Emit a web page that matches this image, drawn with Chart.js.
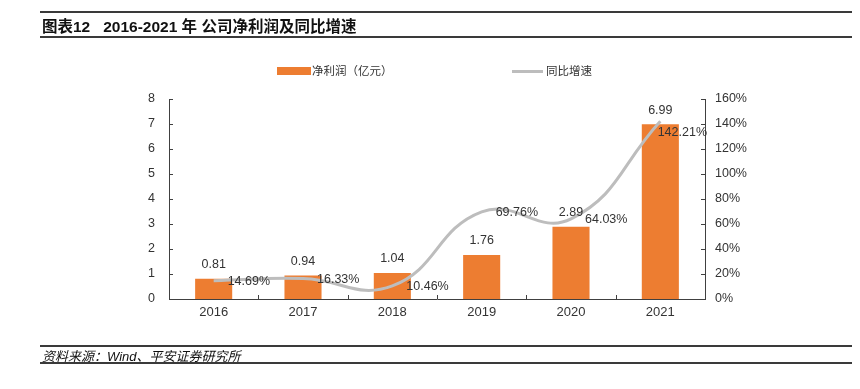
<!DOCTYPE html>
<html>
<head>
<meta charset="utf-8">
<script src="https://cdn.jsdelivr.net/npm/chart.js@4.4.0/dist/chart.umd.min.js"></script>
<style>
  body { margin: 0; background: #fff; width: 860px; height: 389px; position: relative; overflow: hidden;
         font-family: 'Liberation Sans', 'Noto Sans CJK SC', sans-serif; }
  #wrap { position: absolute; left: 0; top: 0; width: 860px; height: 389px; }
  .rule { position: absolute; left: 40px; width: 812px; height: 2px; background: #3a3a3a; }
  #title { position: absolute; left: 42px; top: 14px; font-size: 15.5px; font-weight: bold; color: #111; white-space: pre; }
  #source { position: absolute; left: 42px; top: 346px; font-size: 13px; font-style: italic; color: #111; }
  .leg { position: absolute; top: 63px; font-size: 11.5px; color: #333; line-height: 16px; }
  .swatch { position: absolute; }
</style>
</head>
<body>
<div id="wrap"><canvas id="chart" width="860" height="389"></canvas></div>
<div class="rule" style="top:11px"></div>
<div class="rule" style="top:36px"></div>
<div id="title">图表12   2016-2021 年 公司净利润及同比增速</div>
<div class="rule" style="top:345px"></div>
<div class="rule" style="top:362px"></div>
<div id="source">资料来源：Wind、平安证券研究所</div>

<div class="swatch" style="left:277px;top:67px;width:34px;height:8px;background:#ED7D31"></div>
<div class="leg" style="left:312px">净利润（亿元）</div>
<div class="swatch" style="left:512px;top:70px;width:31px;height:3px;background:#BDBDBD"></div>
<div class="leg" style="left:546px">同比增速</div>

<script>
const years = ['2016', '2017', '2018', '2019', '2020', '2021'];
const profit = [0.81, 0.94, 1.04, 1.76, 2.89, 6.99];       // 亿元
const growth = [14.69, 16.33, 10.46, 69.76, 64.03, 142.21]; // %
const leftMax = 8;
const rightMax = 160;

const axisColor = '#404040';
const textColor = '#333';

// inside tick marks + data labels
const extras = {
    id: 'extras',
    afterDatasetsDraw(chart) {
        const ctx = chart.ctx;
        const area = chart.chartArea;
        const x = chart.scales.x, y = chart.scales.y, y1 = chart.scales.y1;
        ctx.save();
        ctx.strokeStyle = axisColor;
        ctx.lineWidth = 1;
        ctx.beginPath();
        y.ticks.forEach(t => {
            const py = Math.round(y.getPixelForValue(t.value)) + 0.5;
            ctx.moveTo(area.left, py); ctx.lineTo(area.left + 4, py);
        });
        y1.ticks.forEach(t => {
            const py = Math.round(y1.getPixelForValue(t.value)) + 0.5;
            ctx.moveTo(area.right - 4, py); ctx.lineTo(area.right, py);
        });
        for (let i = 1; i < years.length; i++) {
            const px = Math.round((x.getPixelForValue(i - 1) + x.getPixelForValue(i)) / 2) + 0.5;
            ctx.moveTo(px, area.bottom); ctx.lineTo(px, area.bottom - 4);
        }
        ctx.stroke();

        ctx.fillStyle = textColor;
        ctx.font = "12.5px 'Liberation Sans', sans-serif";
        ctx.textBaseline = 'middle';

        const bars = chart.getDatasetMeta(0).data;
        ctx.textAlign = 'center';
        bars.forEach((b, i) => {
            ctx.fillText(profit[i].toFixed(2), b.x, b.y - 14);
        });

        const pts = chart.getDatasetMeta(1).data;
        ctx.textAlign = 'left';
        pts.forEach((p, i) => {
            const txt = growth[i].toFixed(2) + '%';
            const w = ctx.measureText(txt).width;
            let lx = p.x + 14, ly = p.y + 1;
            if (lx + w > area.right + 2) {
                lx = area.right + 2 - w;
                ly += 10;
            }
            ctx.fillText(txt, lx, ly);
        });
        ctx.restore();
    }
};

new Chart(document.getElementById('chart'), {
    data: {
        labels: years,
        datasets: [
            {
                type: 'bar',
                label: '净利润（亿元）',
                data: profit,
                yAxisID: 'y',
                backgroundColor: '#ED7D31',
                categoryPercentage: 1,
                barPercentage: 0.415,
                order: 1
            },
            {
                type: 'line',
                label: '同比增速',
                data: growth,
                yAxisID: 'y1',
                borderColor: '#BDBDBD',
                borderWidth: 3,
                pointRadius: 0,
                tension: 0.45,
                fill: false,
                order: 0
            }
        ]
    },
    options: {
        responsive: false,
        animation: false,
        layout: { padding: { top: 99, left: 0, right: 0, bottom: 0 } },
        plugins: { legend: { display: false }, tooltip: { enabled: false } },
        scales: {
            x: {
                offset: true,
                grid: { display: false, drawTicks: false },
                border: { display: true, color: axisColor, width: 1 },
                ticks: { color: textColor, font: { size: 13, family: 'Liberation Sans' }, padding: 6 },
                afterFit(s) { s.height = 90; }
            },
            y: {
                position: 'left',
                min: 0, max: leftMax,
                grid: { display: false, drawTicks: false },
                border: { display: true, color: axisColor, width: 1 },
                ticks: { stepSize: 1, color: textColor, font: { size: 12.5, family: 'Liberation Sans' }, padding: 14 },
                afterFit(s) { s.width = 169; }
            },
            y1: {
                position: 'right',
                min: 0, max: rightMax,
                grid: { display: false, drawTicks: false },
                border: { display: true, color: axisColor, width: 1 },
                ticks: {
                    stepSize: 20, color: textColor, font: { size: 12.5, family: 'Liberation Sans' }, padding: 10,
                    callback: v => v + '%'
                },
                afterFit(s) { s.width = 155; }
            }
        }
    },
    plugins: [extras]
});
</script>
</body>
</html>
